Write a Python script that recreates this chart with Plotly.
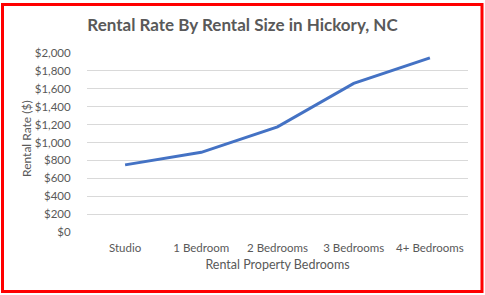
import plotly.graph_objects as go

categories = ["Studio", "1 Bedroom", "2 Bedrooms", "3 Bedrooms", "4+ Bedrooms"]
rent = [750, 890, 1175, 1660, 1945]
y_ticks = [0, 200, 400, 600, 800, 1000, 1200, 1400, 1600, 1800, 2000]
y_tick_labels = ["$0", "$200", "$400", "$600", "$800", "$1,000", "$1,200",
                 "$1,400", "$1,600", "$1,800", "$2,000"]

W, H = 485, 295
L, R, T, B = 87, 17, 53, 63
pw, ph = W - L - R, H - T - B

def px(x):
    return (x - L) / pw

def py(y):
    return (H - B - y) / ph

grey = "#595959"
font = "Lato, Carlito, 'Liberation Sans', sans-serif"

fig = go.Figure()
fig.add_trace(go.Scatter(
    x=categories, y=rent, mode="lines",
    line=dict(color="#4472C4", width=3),
    hoverinfo="x+y",
))

fig.update_layout(
    width=W, height=H,
    margin=dict(l=L, r=R, t=T, b=B),
    paper_bgcolor="white", plot_bgcolor="white",
    showlegend=False,
    font=dict(family=font, color=grey, size=12),
    title=dict(text="<b>Rental Rate By Rental Size in Hickory, NC</b>",
               x=px(242.5), xanchor="center", xref="paper",
               y=1 - 25.5 / H, yanchor="middle",
               font=dict(size=17, color=grey, family=font)),
    xaxis=dict(
        type="category", range=[-0.5, 4.5],
        showgrid=False, zeroline=False, showline=False,
        ticks="outside", ticklen=5, tickcolor="rgba(0,0,0,0)",
        tickfont=dict(size=11.5, color=grey),
        title=dict(text="Rental Property Bedrooms", font=dict(size=12.5, color=grey), standoff=7),
    ),
    yaxis=dict(
        range=[0, 2000], tickvals=y_ticks, ticktext=y_tick_labels,
        showgrid=True, gridcolor="#d9d9d9", gridwidth=1,
        zeroline=False, showline=False,
        ticks="outside", ticklen=13, tickcolor="rgba(0,0,0,0)",
        tickfont=dict(size=11.5, color=grey),
    ),
    annotations=[dict(
        text="Rental Rate ($)", textangle=-90,
        xref="paper", yref="paper", x=px(26), y=py(138),
        xanchor="center", yanchor="middle", showarrow=False,
        font=dict(size=12, color=grey, family=font),
    )],
    shapes=[dict(
        type="rect", xref="paper", yref="paper",
        x0=px(2.5), x1=px(482), y0=py(4.5), y1=py(291.5),
        line=dict(color="#FF0000", width=3), fillcolor="rgba(0,0,0,0)",
        layer="above",
    )],
)

fig.write_html("out.html")
